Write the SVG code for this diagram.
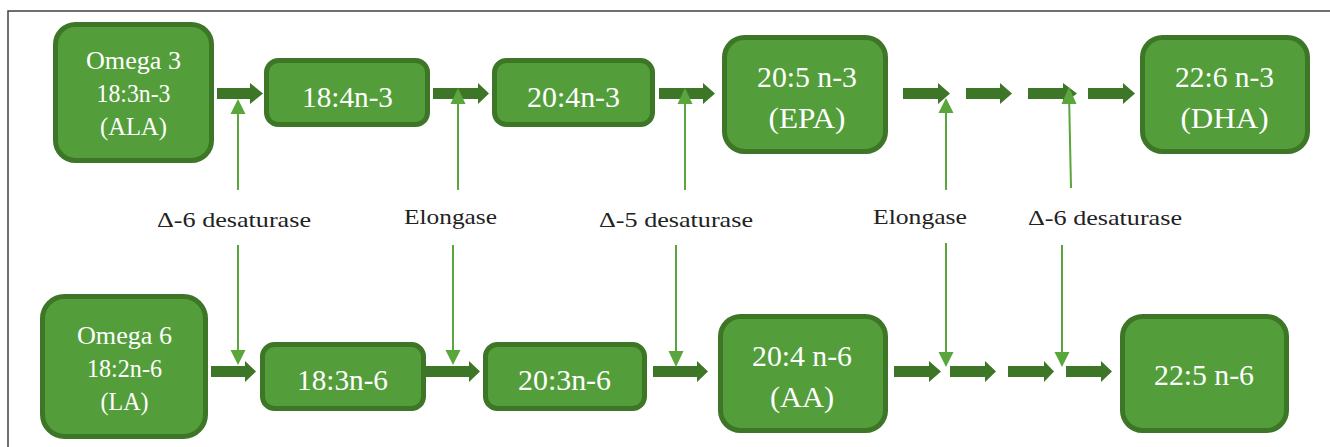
<svg xmlns="http://www.w3.org/2000/svg" width="1330" height="447" viewBox="0 0 1330 447">
<style>
.node rect{fill:#539e3a;stroke:#3e7627;stroke-width:5}
.node text{fill:#ffffff;font-family:"Liberation Serif","Times New Roman",serif;text-anchor:middle}
.f24{font-size:25px}
.f28{font-size:29px}
.blk{fill:#3e7627}
.thin{stroke:#58a63c;stroke-width:2;fill:none}
.tip{fill:#58a63c}
.lbl{fill:#222222;font-family:"Liberation Serif","Times New Roman",serif;font-size:22px;text-anchor:middle}
.frame{stroke:#404040;stroke-width:1.5;fill:none}
</style>
<rect width="1330" height="447" fill="#ffffff"/>
<path class="frame" d="M8 447V11H1330"/>

<g id="connectors">
  <!-- top row block arrows -->
  <path class="blk" d="M217 88H250V83L263 93.5L250 104V99H217Z"/>
  <path class="blk" d="M433 88H478V83L489 93.5L478 104V99H433Z"/>
  <path class="blk" d="M659 88H703V83L715 93.5L703 104V99H659Z"/>
  <path class="blk" d="M903 88H938V83L950 93.5L938 104V99H903Z"/>
  <path class="blk" d="M966 88H1000V83L1012 93.5L1000 104V99H966Z"/>
  <path class="blk" d="M1028 88H1063V83L1077 93.5L1063 104V99H1028Z"/>
  <path class="blk" d="M1088 88H1123V83L1135 93.5L1123 104V99H1088Z"/>
  <!-- bottom row block arrows -->
  <path class="blk" d="M211 366H245V361L256 371.5L245 382V377H211Z"/>
  <path class="blk" d="M426 366H469V361L480 371.5L469 382V377H426Z"/>
  <path class="blk" d="M653 366H697V361L708 371.5L697 382V377H653Z"/>
  <path class="blk" d="M894 366H929V361L941 371.5L929 382V377H894Z"/>
  <path class="blk" d="M950 366H985V361L996 371.5L985 382V377H950Z"/>
  <path class="blk" d="M1008 366H1044V361L1054 371.5L1044 382V377H1008Z"/>
  <path class="blk" d="M1066 366H1101V361L1112 371.5L1101 382V377H1066Z"/>
  <!-- enzyme arrows up (omega 3) -->
  <line class="thin" x1="238" y1="190" x2="238" y2="112"/>
  <path class="tip" d="M238 99L245.5 114H230.5Z"/>
  <line class="thin" x1="458" y1="190" x2="458" y2="103"/>
  <path class="tip" d="M458 88L465.5 104H450.5Z"/>
  <line class="thin" x1="685" y1="190" x2="685" y2="103"/>
  <path class="tip" d="M685 88L692.5 104H677.5Z"/>
  <line class="thin" x1="946" y1="190" x2="946" y2="112"/>
  <path class="tip" d="M946 98L953.5 113H938.5Z"/>
  <line class="thin" x1="1071" y1="188" x2="1069.2" y2="103"/>
  <path class="tip" d="M1069 87L1076.5 104H1061.5Z"/>
  <!-- enzyme arrows down (omega 6) -->
  <line class="thin" x1="238" y1="245" x2="238" y2="352"/>
  <path class="tip" d="M238 365L245.5 350H230.5Z"/>
  <line class="thin" x1="453" y1="245" x2="453" y2="352"/>
  <path class="tip" d="M453 365L460.5 350H445.5Z"/>
  <line class="thin" x1="676" y1="245" x2="676" y2="353"/>
  <path class="tip" d="M676 367L683.5 351H668.5Z"/>
  <line class="thin" x1="946" y1="243" x2="946" y2="353"/>
  <path class="tip" d="M946 367L953.5 352H938.5Z"/>
  <line class="thin" x1="1062" y1="245" x2="1062" y2="353"/>
  <path class="tip" d="M1062 367L1069.5 352H1054.5Z"/>
</g>

<g id="labels">
  <text class="lbl" x="234" y="227" textLength="154" lengthAdjust="spacingAndGlyphs">Δ-6 desaturase</text>
  <text class="lbl" x="450.5" y="224" textLength="93" lengthAdjust="spacingAndGlyphs">Elongase</text>
  <text class="lbl" x="676" y="227" textLength="154" lengthAdjust="spacingAndGlyphs">Δ-5 desaturase</text>
  <text class="lbl" x="920" y="224" textLength="94" lengthAdjust="spacingAndGlyphs">Elongase</text>
  <text class="lbl" x="1105" y="225" textLength="154" lengthAdjust="spacingAndGlyphs">Δ-6 desaturase</text>
</g>

<g id="n-omega3" class="node">
  <rect x="55.5" y="24.5" width="156" height="136" rx="20"/>
  <text class="f24" x="133.5" y="69" textLength="95" lengthAdjust="spacingAndGlyphs">Omega 3</text>
  <text class="f24" x="133.5" y="102" textLength="74" lengthAdjust="spacingAndGlyphs">18:3n-3</text>
  <text class="f24" x="133.5" y="135" textLength="67" lengthAdjust="spacingAndGlyphs">(ALA)</text>
</g>
<g id="n-18-4n3" class="node">
  <rect x="266.5" y="60.5" width="161" height="64" rx="12"/>
  <text class="f28" x="347.5" y="107" textLength="91" lengthAdjust="spacingAndGlyphs">18:4n-3</text>
</g>
<g id="n-20-4n3" class="node">
  <rect x="494.5" y="60.5" width="158" height="64" rx="12"/>
  <text class="f28" x="573.5" y="107" textLength="93" lengthAdjust="spacingAndGlyphs">20:4n-3</text>
</g>
<g id="n-epa" class="node">
  <rect x="724.5" y="37.5" width="161" height="114" rx="20"/>
  <text class="f28" x="807" y="87" textLength="100" lengthAdjust="spacingAndGlyphs">20:5 n-3</text>
  <text class="f28" x="807" y="128" textLength="77" lengthAdjust="spacingAndGlyphs">(EPA)</text>
</g>
<g id="n-dha" class="node">
  <rect x="1142.5" y="37.5" width="165" height="114" rx="20"/>
  <text class="f28" x="1224.5" y="87" textLength="99" lengthAdjust="spacingAndGlyphs">22:6 n-3</text>
  <text class="f28" x="1224.5" y="128" textLength="88" lengthAdjust="spacingAndGlyphs">(DHA)</text>
</g>

<g id="n-omega6" class="node">
  <rect x="42.5" y="296.5" width="163" height="140" rx="22"/>
  <text class="f24" x="124.5" y="344" textLength="95" lengthAdjust="spacingAndGlyphs">Omega 6</text>
  <text class="f24" x="124.5" y="377" textLength="75" lengthAdjust="spacingAndGlyphs">18:2n-6</text>
  <text class="f24" x="124.5" y="410" textLength="48" lengthAdjust="spacingAndGlyphs">(LA)</text>
</g>
<g id="n-18-3n6" class="node">
  <rect x="262.5" y="344.5" width="161" height="64" rx="12"/>
  <text class="f28" x="342.5" y="390" textLength="91" lengthAdjust="spacingAndGlyphs">18:3n-6</text>
</g>
<g id="n-20-3n6" class="node">
  <rect x="485.5" y="344.5" width="159" height="64" rx="12"/>
  <text class="f28" x="564.5" y="390" textLength="93" lengthAdjust="spacingAndGlyphs">20:3n-6</text>
</g>
<g id="n-aa" class="node">
  <rect x="720.5" y="316.5" width="165" height="114" rx="20"/>
  <text class="f28" x="802" y="366" textLength="100" lengthAdjust="spacingAndGlyphs">20:4 n-6</text>
  <text class="f28" x="802" y="407" textLength="64" lengthAdjust="spacingAndGlyphs">(AA)</text>
</g>
<g id="n-22-5n6" class="node">
  <rect x="1122.5" y="316.5" width="164" height="114" rx="20"/>
  <text class="f28" x="1204" y="385" textLength="100" lengthAdjust="spacingAndGlyphs">22:5 n-6</text>
</g>
</svg>
